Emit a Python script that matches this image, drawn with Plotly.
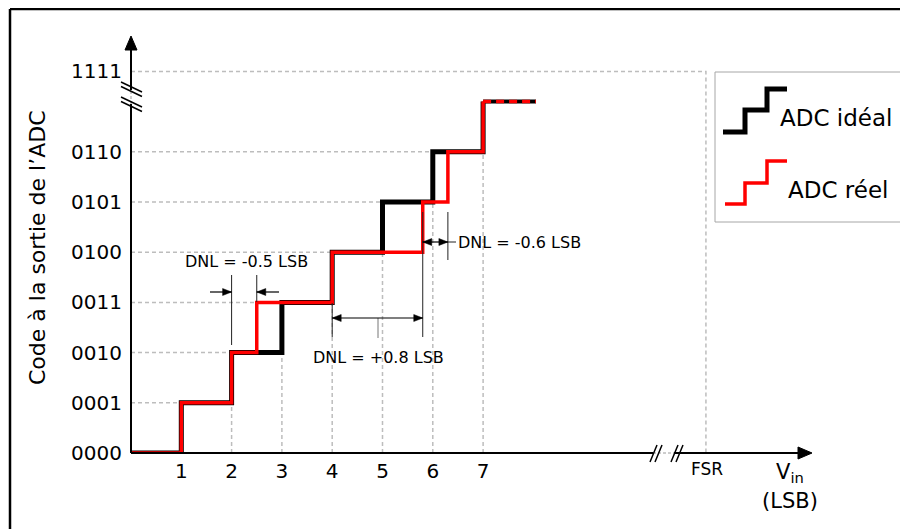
import plotly.graph_objects as go

# ---- data: transfer characteristic of the ADC (LSB units / output codes) ----
codes = [0, 1, 2, 3, 4, 5, 6, 7]
ideal_edges = [0, 1, 2, 3, 4, 5, 6, 7]
real_edges = [0, 1, 2, 2.5, 4, 5.8, 6.3, 7]
code_labels = ["0000", "0001", "0010", "0011", "0100", "0101", "0110"]
full_code_label = "1111"
full_code_pos = 7.6          # "1111" sits above the axis break
fsr = 11.43
last_step_end = 8.05
x_ticks = [1, 2, 3, 4, 5, 6, 7]

# ---- page geometry (pixels, as seen in the browser window) ----
PAGE_W, PAGE_H = 908, 529
BODY = 8                      # default body margin of the html page
X0, Y0, TOP = 131, 453, 15    # axis origin and top of plotting area
SX, SY = 50.3, 50.2           # pixels per LSB / per code

FONT = "DejaVu Sans"
GRID = "#bdbdbd"


def px(u):
    """page column -> paper x"""
    return (u - X0) / (PAGE_W - X0)


def py(v):
    """page row -> paper y"""
    return (Y0 - v) / (Y0 - TOP)


def dx(u):
    return (u - X0) / SX


def dy(v):
    return (Y0 - v) / SY


fig = go.Figure()

# dashed guide lines, taken from the ideal transitions
gx, gy = [], []
for k in range(1, 7):
    gx += [0, ideal_edges[k], None]
    gy += [codes[k], codes[k], None]
for k in range(2, 8):
    gx += [ideal_edges[k], ideal_edges[k], None]
    gy += [0, codes[k - 1], None]
gx += [0, fsr, fsr]
gy += [full_code_pos, full_code_pos, 0]
fig.add_trace(go.Scatter(x=gx, y=gy, mode="lines", hoverinfo="skip",
                         line=dict(color=GRID, width=1.5, dash="4px,3px")))

# staircases
fig.add_trace(go.Scatter(x=ideal_edges, y=codes, mode="lines", line_shape="hv",
                         name="ADC idéal", line=dict(color="black", width=5)))
fig.add_trace(go.Scatter(x=[ideal_edges[-1], last_step_end], y=[codes[-1], codes[-1]],
                         mode="lines", line=dict(color="black", width=4)))
fig.add_trace(go.Scatter(x=real_edges, y=codes, mode="lines", line_shape="hv",
                         name="ADC réel", line=dict(color="#ff0000", width=3.5)))
fig.add_trace(go.Scatter(x=[real_edges[-1], last_step_end], y=[codes[-1], codes[-1]],
                         mode="lines", line=dict(color="#ff0000", width=3.5, dash="8px,5px")))

shapes = []


def seg(x0, y0, x1, y1, color="black", width=2, dash=None, ref="paper"):
    shapes.append(dict(type="line", xref=ref, yref=ref, x0=x0, y0=y0, x1=x1, y1=y1,
                       line=dict(color=color, width=width, dash=dash)))


def pseg(a, b, c, d, **kw):
    seg(px(a), py(b), px(c), py(d), **kw)


def tri(pts, ref="paper"):
    path = "M" + " L".join(f"{a},{b}" for a, b in pts) + " Z"
    shapes.append(dict(type="path", xref=ref, yref=ref, path=path,
                       fillcolor="black", line=dict(color="black", width=1)))


# frame (top and left edges only)
pseg(10, 9, PAGE_W + 5, 9, width=2.5)
pseg(10, 9, 10, PAGE_H + 5, width=2.5)

# x axis with break and arrow
pseg(X0, Y0, 653, Y0)
pseg(653, Y0, 674, Y0, color=GRID, width=1.5, dash="3px,2px")
pseg(674, Y0, 800, Y0)
for a in (650, 655, 671, 676):
    pseg(a, 462, a + 7, 445, width=1.5)
tri([(px(812), py(Y0)), (px(798), py(Y0 - 6)), (px(798), py(Y0 + 6))])

# y axis with break and arrow
pseg(X0, Y0, X0, 104)
pseg(X0, 104, X0, 90, color=GRID, width=1.5, dash="3px,2px")
pseg(X0, 90, X0, 48)
for b in (82, 86.5, 97, 101.5):
    pseg(121, b, 142, b + 10, width=1.5)
tri([(px(X0), py(36)), (px(X0 - 6), py(50)), (px(X0 + 6), py(50))])

# DNL construction lines (data coordinates)
thin = dict(color="#222222", width=1, ref="x")
for x, a, b in [(real_edges[2], 275, 345), (real_edges[3], 275, 302),
                (real_edges[4], 303, 337), (real_edges[5], 212, 337),
                (real_edges[6], 212, 260)]:
    seg(x, dy(a), x, dy(b), **thin)
seg(dx(378), dy(318), dx(378), dy(338), color="#777777", width=1, ref="x")
seg(real_edges[6], dy(242), dx(456), dy(242), **thin)
for s in shapes:
    if s["xref"] == "x":
        s["yref"] = "y"

HL, HW = 9 / SX, 3.5 / SY      # arrow head length / half width in data units


def head(x, y, direction):
    b = x - direction * HL
    shapes.append(dict(type="path", xref="x", yref="y",
                       path=f"M{x},{y} L{b},{y + HW} L{b},{y - HW} Z",
                       fillcolor="black", line=dict(color="black", width=0.5)))


def arrow(x_from, x_to, y, both=False):
    shapes.append(dict(type="line", xref="x", yref="y", x0=x_from, x1=x_to, y0=y, y1=y,
                       line=dict(color="black", width=1.2)))
    d = 1 if x_to > x_from else -1
    head(x_to, y, d)
    if both:
        head(x_from, y, -d)


arrow(dx(210), real_edges[2], dy(292))
arrow(dx(279), real_edges[3], dy(292))
arrow(real_edges[4], real_edges[5], dy(318), both=True)
arrow(real_edges[5], real_edges[6], dy(242), both=True)

# legend box (drawn by hand: stair-shaped samples)
shapes.append(dict(type="rect", xref="paper", yref="paper",
                   x0=px(715), y0=py(72), x1=px(906), y1=py(222),
                   line=dict(color="#a6a6a6", width=1)))


def stair(pts, color, width):
    path = "M" + " L".join(f"{px(a)},{py(b)}" for a, b in pts)
    shapes.append(dict(type="path", xref="paper", yref="paper", path=path,
                       line=dict(color=color, width=width)))


stair([(723, 132), (745, 132), (745, 110), (767, 110), (767, 89), (787, 89)], "black", 5)
stair([(725, 204), (745, 204), (745, 183), (767, 183), (767, 161), (787, 161)], "#ff0000", 3.5)

annotations = []


def note(text, x, y, size, xanchor="center", yanchor="middle", **kw):
    annotations.append(dict(text=text, x=x, y=y, xref="paper", yref="paper", showarrow=False,
                            xanchor=xanchor, yanchor=yanchor,
                            font=dict(family=FONT, size=size, color="black"), **kw))


note("DNL = -0.5 LSB", px(246), py(261), 16)
note("DNL = +0.8 LSB", px(378), py(357), 16)
note("DNL = -0.6 LSB", px(456), py(242), 16, xanchor="left")

note("ADC idéal", px(778), py(118), 23, xanchor="left")
note("ADC réel", px(786), py(190), 23, xanchor="left")

note("FSR", px(707), py(469), 17)
note("V<sub>in</sub>", px(790), py(473), 21)
note("(LSB)", px(790), py(501), 21)
note("Code à la sortie de l’ADC", px(37), py(248), 22, textangle=-90)

fig.update_layout(
    width=PAGE_W - BODY, height=PAGE_H - BODY,
    margin=dict(l=X0 - BODY, r=0, t=TOP - BODY, b=PAGE_H - Y0),
    paper_bgcolor="white", plot_bgcolor="white",
    showlegend=False,
    shapes=shapes, annotations=annotations,
    xaxis=dict(range=[0, (PAGE_W - X0) / SX], showgrid=False, zeroline=False, showline=False,
               tickvals=x_ticks, ticktext=[str(v) for v in x_ticks], ticks="",
               ticklabelstandoff=4, tickfont=dict(family=FONT, size=20, color="black")),
    yaxis=dict(range=[0, (Y0 - TOP) / SY], showgrid=False, zeroline=False, showline=False,
               tickvals=codes[:7] + [full_code_pos], ticktext=code_labels + [full_code_label],
               ticks="", ticklabelstandoff=8,
               tickfont=dict(family=FONT, size=20, color="black")),
)

fig.write_html("out.html")
